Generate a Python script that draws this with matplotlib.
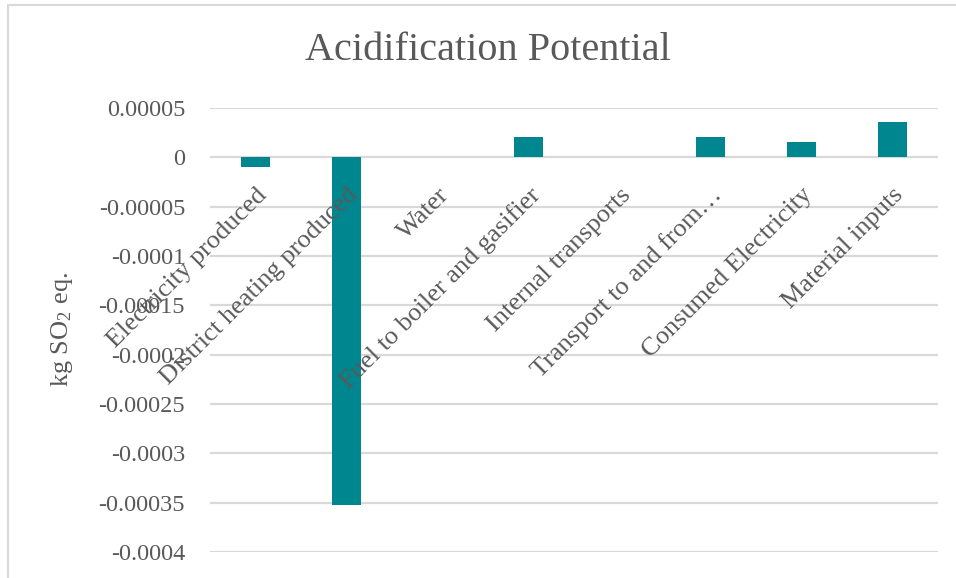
import matplotlib.pyplot as plt
from matplotlib.patches import Rectangle

plt.rcParams['font.family'] = ['Liberation Serif', 'DejaVu Serif']
plt.rcParams['mathtext.fontset'] = 'custom'
plt.rcParams['mathtext.rm'] = 'Liberation Serif'
plt.rcParams['mathtext.it'] = 'Liberation Serif:italic'

# impact contributions per process step
categories = ['Electricity produced', 'District heating produced', 'Water',
              'Fuel to boiler and gasifier', 'Internal transports',
              'Transport to and from\u2026', 'Consumed Electricity',
              'Material inputs']
values = [-1.0e-5, -3.52e-4, 0.0, 2.06e-5, 3e-7, 2.06e-5, 1.52e-5, 3.55e-5]
yticks = [0.00005, 0, -0.00005, -0.0001, -0.00015, -0.0002, -0.00025,
          -0.0003, -0.00035, -0.0004]
ytick_labels = ['0.00005', '0', '-0.00005', '-0.0001', '-0.00015', '-0.0002',
                '-0.00025', '-0.0003', '-0.00035', '-0.0004']

text_col = '#595959'
grid_col = '#D9D9D9'
bar_col = '#00868E'

fig = plt.figure(figsize=(9.56, 5.78), dpi=100)

# outer chart frame (runs off the right and bottom edge)
fig.patches.append(Rectangle((7.5 / 956, -0.1), 1.2, 1 - 5.5 / 578 + 0.1,
                             transform=fig.transFigure, fill=False,
                             edgecolor=grid_col, linewidth=1.5))

ax = fig.add_axes([210 / 956, 1 - 552 / 578, (938 - 210) / 956, (552 - 108) / 578])
x = list(range(len(categories)))
ax.bar(x, values, width=0.31, color=bar_col, linewidth=0, zorder=3)

ax.set_xlim(-0.5, len(categories) - 0.5)
ax.set_ylim(-0.0004, 0.00005)
ax.set_yticks(yticks)
ax.set_yticklabels(ytick_labels)
for y in yticks:
    ax.axhline(y, color=grid_col, linewidth=1.6, zorder=1)

for s in ax.spines.values():
    s.set_visible(False)
ax.tick_params(axis='y', length=0, pad=18, labelsize=17.5, labelcolor=text_col)
ax.set_xticks([])

# category labels hang off the zero line
for i, lab in enumerate(categories):
    ax.annotate(lab, xy=(i, 0), xytext=(0, -19), textcoords='offset points',
                rotation=45, rotation_mode='anchor', ha='right', va='top',
                fontsize=19, color=text_col)

fig.text(62 / 956, 1 - 329 / 578, 'kg SO$_2$ eq.', fontsize=19,
         color=text_col, rotation=90, ha='center', va='center')

fig.text(488 / 956, 1 - 50 / 578, 'Acidification Potential', fontsize=29,
         color=text_col, ha='center', va='center')

fig.savefig('out.png', dpi=100)
